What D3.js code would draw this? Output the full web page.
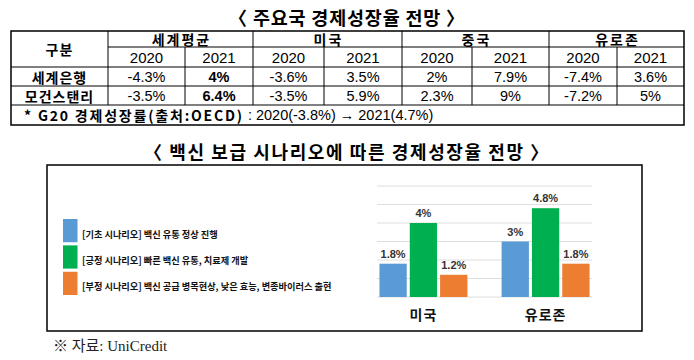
<!DOCTYPE html>
<html>
<head>
<meta charset="utf-8">
<script src="https://cdn.jsdelivr.net/npm/d3@7"></script>
<style>
  html, body { margin: 0; padding: 0; background: #fff; }
  svg { display: block; }
</style>
</head>
<body>
<svg id="chart" width="694" height="360"></svg>
<script>
// ---------- data ----------
const tableTitle = "〈 주요국 경제성장율 전망 〉";
const chartTitle = "〈 백신 보급 시나리오에 따른 경제성장율 전망 〉";
const headerLabel = "구분";
const regionGroups = ["세계평균", "미국", "중국", "유로존"];
const years = ["2020", "2021"];
const rowLabels = ["세계은행", "모건스탠리"];
const worldBankValues = [-4.3, 4, -3.6, 3.5, 2, 7.9, -7.4, 3.6];
const morganStanleyValues = [-3.5, 6.4, -3.5, 5.9, 2.3, 9, -7.2, 5];
const g20Label = "* G20 경제성장률(출처:OECD)";
const g20Values = [-3.8, 4.7];

const scenarioLabels = [
  "[기초 시나리오] 백신 유통 정상 진행",
  "[긍정 시나리오] 빠른 백신 유통, 치료제 개발",
  "[부정 시나리오] 백신 공급 병목현상, 낮은 효능, 변종바이러스 출현"
];
const chartRegions = ["미국", "유로존"];
const baseScenario = [1.8, 3];
const positiveScenario = [4, 4.8];
const negativeScenario = [1.2, 1.8];
const yTicks = [0, 1, 2, 3, 4, 5, 6];
const sourceText = "※ 자료: UniCredit";

// ---------- layout ----------
const svg = d3.select("#chart");
const KR = "'Noto Sans CJK KR', 'Noto Sans', sans-serif";
const NUM = "'Liberation Sans', Arial, sans-serif";
const colX = [11, 108, 185, 253, 324, 402, 472, 549, 617, 684];
const rowY = [31, 47, 67, 86, 105, 125];
const fmt = v => (v < 0 ? "-" : "") + Math.abs(v) + "%";

// title 1
svg.append("text").attr("x", 347).attr("y", 17)
  .attr("text-anchor", "middle").attr("dominant-baseline", "central")
  .style("font-family", KR).style("font-weight", 700).style("font-size", "18.5px")
  .style("letter-spacing", "0.8px")
  .text(tableTitle);

// table lines
const tbl = svg.append("g").attr("stroke", "#000").attr("fill", "none");
tbl.append("rect").attr("x", colX[0]).attr("y", rowY[0])
  .attr("width", colX[9] - colX[0]).attr("height", rowY[5] - rowY[0])
  .attr("stroke-width", 1.5);
tbl.append("line").attr("x1", colX[1]).attr("x2", colX[9]).attr("y1", rowY[1]).attr("y2", rowY[1]);
[2, 3, 4].forEach(i => tbl.append("line").attr("x1", colX[0]).attr("x2", colX[9]).attr("y1", rowY[i]).attr("y2", rowY[i]));
colX.slice(1, 9).forEach((x, i) => {
  const isGroup = i % 2 === 0;
  tbl.append("line").attr("x1", x).attr("x2", x)
    .attr("y1", isGroup ? rowY[0] : rowY[1]).attr("y2", rowY[4]);
});

const cellText = (x, y, t, opts = {}) => svg.append("text")
  .attr("x", x).attr("y", y)
  .attr("text-anchor", opts.anchor || "middle").attr("dominant-baseline", "central")
  .style("font-family", opts.font || KR)
  .style("font-weight", opts.bold ? 700 : 400)
  .style("font-size", (opts.size || 14) + "px")
  .style("letter-spacing", (opts.ls || 0) + "px")
  .attr("fill", "#000")
  .text(t);

cellText((colX[0] + colX[1]) / 2, (rowY[0] + rowY[2]) / 2, headerLabel, {bold: true, ls: 1});
regionGroups.forEach((g, i) => {
  cellText((colX[1 + 2 * i] + colX[3 + 2 * i]) / 2 + 1, (rowY[0] + rowY[1]) / 2, g, {bold: true, ls: 2});
  years.forEach((y, j) => {
    cellText((colX[1 + 2 * i + j] + colX[2 + 2 * i + j]) / 2, (rowY[1] + rowY[2]) / 2, y, {font: NUM, size: 15});
  });
});
[worldBankValues, morganStanleyValues].forEach((vals, r) => {
  cellText((colX[0] + colX[1]) / 2, (rowY[2 + r] + rowY[3 + r]) / 2, rowLabels[r], {bold: true, ls: 1});
  vals.forEach((v, c) => {
    cellText((colX[1 + c] + colX[2 + c]) / 2, (rowY[2 + r] + rowY[3 + r]) / 2, fmt(v),
      {font: NUM, size: 14.5, bold: c === 1});
  });
});
// footnote
const fn = svg.append("text").attr("x", 24).attr("y", (rowY[4] + rowY[5]) / 2)
  .attr("dominant-baseline", "central").style("font-size", "14px");
fn.append("tspan").style("font-family", KR).style("font-weight", 700).style("letter-spacing", "1.8px")
  .text(g20Label);
fn.append("tspan").style("font-family", NUM).style("font-weight", 400).style("font-size", "14.5px")
  .text(` : 2020(${fmt(g20Values[0])}) → 2021(${fmt(g20Values[1])})`);

// title 2
svg.append("text").attr("x", 347).attr("y", 151)
  .attr("text-anchor", "middle").attr("dominant-baseline", "central")
  .style("font-family", KR).style("font-weight", 700).style("font-size", "18px")
  .style("letter-spacing", "1.6px")
  .text(chartTitle);

// chart box
svg.append("rect").attr("x", 47).attr("y", 165).attr("width", 595).attr("height", 166)
  .attr("fill", "none").attr("stroke", "#000").attr("stroke-width", 1.5);

// legend
const colors = ["#5B9BD5", "#00B050", "#ED7D31"];
const legY = d3.scaleBand().domain(scenarioLabels).range([219, 295]).paddingInner(0.12);
const leg = svg.append("g").selectAll("g").data(scenarioLabels).join("g");
leg.append("rect").attr("x", 63).attr("y", d => legY(d)).attr("width", 14.5)
  .attr("height", legY.bandwidth()).attr("fill", (d, i) => colors[i]);
leg.append("text").attr("x", 82).attr("y", d => legY(d) + legY.bandwidth() / 2 + 3)
  .attr("dominant-baseline", "central")
  .style("font-family", KR).style("font-weight", 700).style("font-size", "9.2px")
  .attr("fill", "#111").text(d => d);

// bar chart
const y = d3.scaleLinear().domain([0, 6]).range([297, 186]);
const x0 = d3.scaleBand().domain(chartRegions).range([377, 592]).paddingInner(0.28).paddingOuter(0.02);
const series = [baseScenario, positiveScenario, negativeScenario];
const x1 = d3.scaleBand().domain(d3.range(series.length)).range([0, x0.bandwidth()]).paddingInner(0.1);

svg.append("g").selectAll("line").data(yTicks).join("line")
  .attr("x1", 377).attr("x2", 592).attr("y1", d => y(d)).attr("y2", d => y(d))
  .attr("stroke", "#dedede").attr("stroke-width", 1);

const barData = [];
chartRegions.forEach((r, ri) => series.forEach((s, si) => barData.push({r, si, v: s[ri]})));
const bars = svg.append("g");
bars.selectAll("rect").data(barData).join("rect")
  .attr("x", d => x0(d.r) + x1(d.si)).attr("width", x1.bandwidth())
  .attr("y", d => y(d.v)).attr("height", d => y(0) - y(d.v))
  .attr("fill", d => colors[d.si]);
bars.selectAll("text").data(barData).join("text")
  .attr("x", d => x0(d.r) + x1(d.si) + x1.bandwidth() / 2)
  .attr("y", d => y(d.v) - 6)
  .attr("text-anchor", "middle")
  .style("font-family", NUM).style("font-weight", 700).style("font-size", "11px")
  .attr("fill", "#333").text(d => d.v + "%");

svg.append("g").selectAll("text").data(chartRegions).join("text")
  .attr("x", d => x0(d) + x0.bandwidth() / 2).attr("y", 314)
  .attr("text-anchor", "middle").attr("dominant-baseline", "central")
  .style("font-family", KR).style("font-weight", 700).style("font-size", "14px")
  .style("letter-spacing", "1px")
  .attr("fill", "#111").text(d => d);

// source
svg.append("text").attr("x", 53).attr("y", 346).attr("dominant-baseline", "central")
  .style("font-family", "'Liberation Serif', 'Noto Sans CJK KR', serif").style("font-size", "15px")
  .attr("fill", "#222").text(sourceText);
</script>
</body>
</html>
